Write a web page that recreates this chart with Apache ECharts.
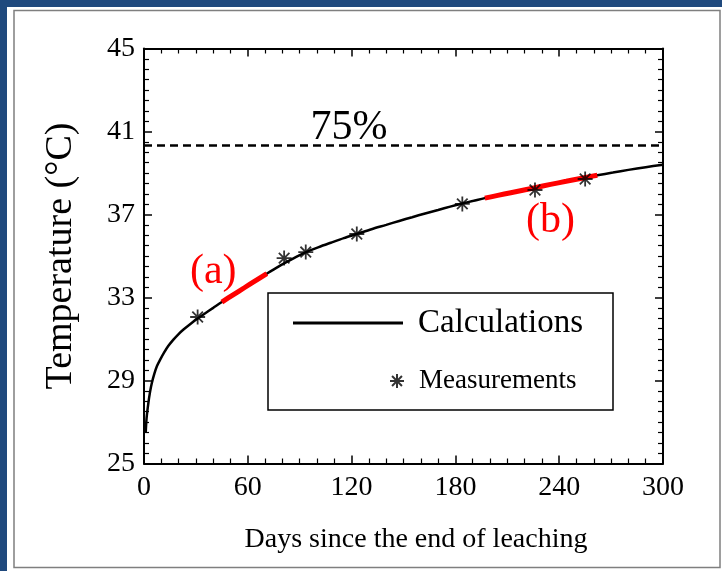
<!DOCTYPE html>
<html>
<head>
<meta charset="utf-8">
<script src="https://cdn.jsdelivr.net/npm/echarts@6/dist/echarts.min.js"></script>
<style>
  html, body { margin: 0; padding: 0; background: #1F497D; }
  #chart { width: 722px; height: 571px; }
</style>
</head>
<body>
<div id="chart"></div>
<script>
// Calculated temperature curve: [day, °C]
const calcDays  = [1, 1.5, 2.5, 3.5, 4.5, 6, 7.5, 9.5, 11.5, 14, 17, 20, 23, 27, 31, 35, 40, 45, 51.5, 58, 64.5, 71, 76.5, 82, 88, 94, 101, 108, 115.5, 123, 131.5, 140, 147.5, 155, 162.5, 170, 177, 184, 190.5, 197, 204.5, 212, 219, 226, 235, 244, 253, 262, 271, 280, 290, 300];
const calcTemps = [26.5, 27.2, 27.9, 28.45, 28.87, 29.33, 29.7, 30.03, 30.33, 30.66, 30.97, 31.24, 31.47, 31.74, 31.99, 32.22, 32.5, 32.78, 33.13, 33.47, 33.81, 34.15, 34.43, 34.69, 34.96, 35.2, 35.43, 35.64, 35.86, 36.06, 36.29, 36.5, 36.69, 36.87, 37.05, 37.22, 37.38, 37.53, 37.66, 37.79, 37.92, 38.05, 38.17, 38.29, 38.45, 38.6, 38.75, 38.89, 39.02, 39.15, 39.28, 39.4];

// Field measurements
const measDays  = [31, 81, 93.5, 123, 184, 226, 255];
const measTemps = [32.06, 34.9, 35.19, 36.06, 37.51, 38.18, 38.71];

// Highlighted stretches of the calculated curve (day ranges)
const rangeA = [45, 71];
const rangeB = [197, 262];

// 75% temperature level
const level75 = 40.35;

// Axis settings
const xTicks = { min: 0, max: 300, step: 60 };
const yTicks = { min: 25, max: 45, step: 4 };

const curve = calcDays.map((d, i) => [d, calcTemps[i]]);
const meas = measDays.map((d, i) => [d, measTemps[i]]);
const inRange = r => curve.filter(p => p[0] >= r[0] && p[0] <= r[1]);

const SERIF = '"Liberation Serif", "Times New Roman", serif';
const STAR = 'path://M0,-10L0,10M-10,0L10,0M-7.07,-7.07L7.07,7.07M-7.07,7.07L7.07,-7.07';
const LEGEND_LINE = 'path://M0,0H110V3H0Z';
const SMOOTH = 0.3;

function xAxisDef(bottom) {
  return {
    type: 'value', position: bottom ? 'bottom' : 'top',
    min: xTicks.min, max: xTicks.max, interval: xTicks.step,
    axisLine: { show: true, onZero: false, lineStyle: { color: '#000', width: 2 } },
    axisTick: { show: true, inside: true, length: 8, lineStyle: { color: '#000', width: 1.5 } },
    minorTick: { show: true, splitNumber: 6, length: 5, lineStyle: { color: '#000', width: 1.2 } },
    axisLabel: { show: bottom, color: '#000', fontFamily: SERIF, fontSize: 28, margin: 10 },
    splitLine: { show: false }, minorSplitLine: { show: false },
    name: bottom ? 'Days since the end of leaching' : '',
    nameLocation: 'middle', nameGap: 62,
    nameTextStyle: { color: '#000', fontFamily: SERIF, fontSize: 28, padding: [0, 0, 0, 25] }
  };
}
function yAxisDef(left) {
  return {
    type: 'value', position: left ? 'left' : 'right',
    min: yTicks.min, max: yTicks.max, interval: yTicks.step,
    axisLine: { show: true, onZero: false, lineStyle: { color: '#000', width: 2 } },
    axisTick: { show: true, inside: true, length: 8, lineStyle: { color: '#000', width: 1.5 } },
    minorTick: { show: true, splitNumber: 8, length: 5, lineStyle: { color: '#000', width: 1.2 } },
    axisLabel: { show: left, color: '#000', fontFamily: SERIF, fontSize: 28, margin: 9 },
    splitLine: { show: false }, minorSplitLine: { show: false },
    name: left ? 'Temperature (°C)' : '',
    nameLocation: 'middle', nameGap: 64,
    nameTextStyle: { color: '#000', fontFamily: SERIF, fontSize: 38 }
  };
}

function labelPoint(text, coord, color) {
  return {
    silent: true, symbol: 'circle', symbolSize: 0,
    label: { show: true, position: 'inside', color: color, fontFamily: SERIF, fontSize: 42, formatter: p => p.name },
    data: [{ name: text, coord: coord }]
  };
}

const chart = echarts.init(document.getElementById('chart'), null, { renderer: 'canvas' });
chart.setOption({
  backgroundColor: '#1F497D',
  animation: false,
  grid: { left: 144, right: 59, top: 48.5, bottom: 107.5, containLabel: false },
  xAxis: [xAxisDef(true), xAxisDef(false)],
  yAxis: [yAxisDef(true), yAxisDef(false)],
  graphic: [
    { type: 'rect', z: -10, silent: true, shape: { x: 7, y: 7, width: 715, height: 564 }, style: { fill: '#fff' } },
    { type: 'rect', z: -9, silent: true, shape: { x: 14, y: 10.5, width: 706, height: 557 }, style: { fill: 'none', stroke: '#7f7f7f', lineWidth: 1.5 } },
    { type: 'rect', z: 3, silent: true, shape: { x: 268, y: 293, width: 345, height: 117 }, style: { fill: '#fff', stroke: '#000', lineWidth: 1.5 } }
  ],
  legend: [
    {
      data: [{ name: 'Calculations', icon: LEGEND_LINE }], left: 293, top: 306, orient: 'vertical', padding: 0,
      itemWidth: 110, itemHeight: 3,
      itemStyle: { color: '#000', borderWidth: 0 },
      textStyle: { color: '#000', fontFamily: SERIF, fontSize: 33, lineHeight: 34, padding: [0, 0, 0, 10] },
      z: 5
    },
    {
      data: ['Measurements'], left: 389, top: 367, orient: 'vertical', padding: 0,
      itemWidth: 14, itemHeight: 14,
      textStyle: { color: '#000', fontFamily: SERIF, fontSize: 27, lineHeight: 28, padding: [0, 0, 0, 10] },
      z: 5
    }
  ],
  series: [
    {
      name: 'Calculations', type: 'line', data: curve, smooth: SMOOTH,
      showSymbol: false, symbol: 'none', z: 2,
      lineStyle: { color: '#000', width: 2.5 }, itemStyle: { color: '#000' },
      markLine: {
        silent: true, symbol: 'none', label: { show: false },
        lineStyle: { color: '#000', width: 2.5, type: [8, 5] },
        data: [{ yAxis: level75 }]
      },
      markPoint: labelPoint('75%', [118.5, 41.17], '#000')
    },
    {
      type: 'line', data: inRange(rangeA), smooth: SMOOTH, showSymbol: false, symbol: 'none', z: 3,
      lineStyle: { color: '#ff0000', width: 5 },
      markPoint: labelPoint('(a)', [40, 34.23], '#ff0000')
    },
    {
      type: 'line', data: inRange(rangeB), smooth: SMOOTH, showSymbol: false, symbol: 'none', z: 3,
      lineStyle: { color: '#ff0000', width: 5 },
      markPoint: labelPoint('(b)', [235, 36.71], '#ff0000')
    },
    {
      name: 'Measurements', type: 'scatter', data: meas, z: 4,
      symbol: STAR, symbolSize: 15,
      itemStyle: { color: '#000', borderColor: '#000', borderWidth: 1.8 }
    }
  ]
});
</script>
</body>
</html>
